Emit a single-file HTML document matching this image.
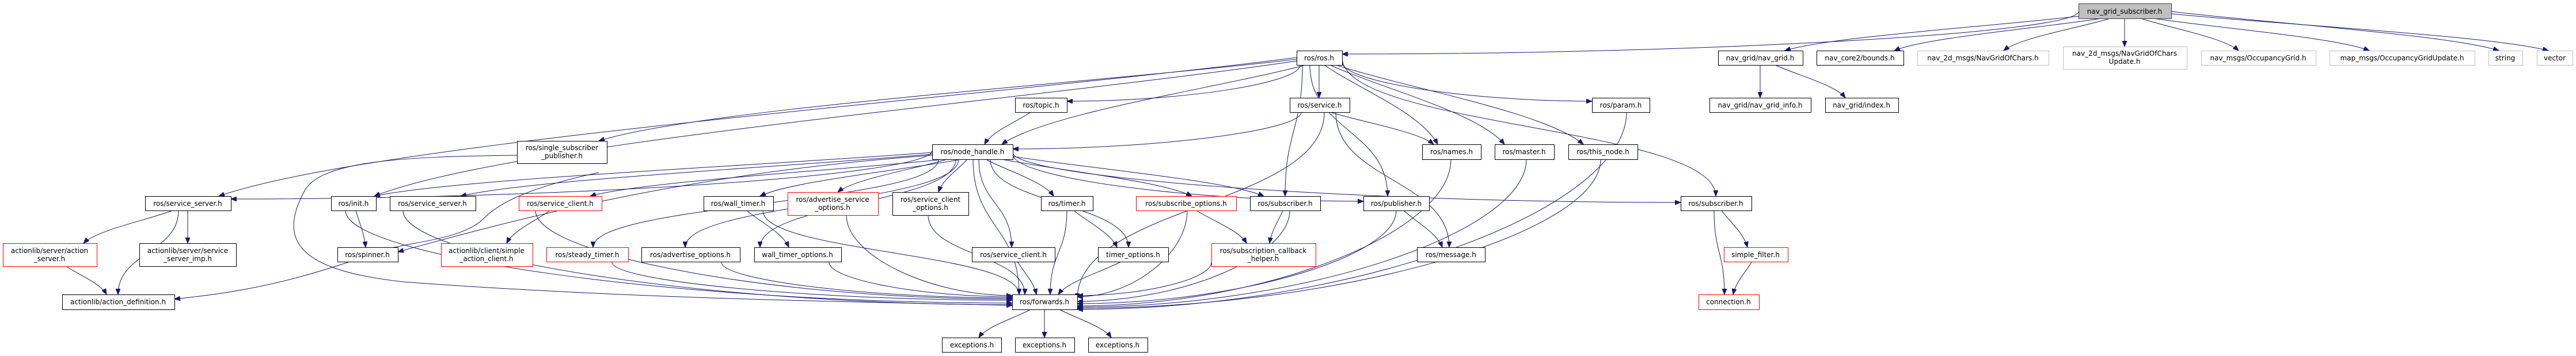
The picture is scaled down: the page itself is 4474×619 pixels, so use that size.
<!DOCTYPE html>
<html><head><meta charset="utf-8"><style>
html,body{margin:0;padding:0;background:#fff;}
svg{display:block;}
text{font-family:"DejaVu Sans","Liberation Sans",sans-serif;font-size:12px;fill:#000;text-anchor:middle;}
.n rect{fill:#fff;stroke:#000;stroke-width:1;}
.r rect{fill:#fff;stroke:#ff0000;stroke-width:1;}
.g rect{fill:#fff;stroke:#bfbfbf;stroke-width:1;}
.e path{fill:none;stroke:#191970;stroke-width:1;}
</style></head><body>
<svg id="s" width="4474" height="619" viewBox="0 0 4474 619" xmlns="http://www.w3.org/2000/svg">
<defs><marker id="a" markerUnits="userSpaceOnUse" markerWidth="11" markerHeight="8" refX="10" refY="4" orient="auto"><path d="M0,0 L10,4 L0,8 z" fill="#191970" stroke="#191970"/></marker></defs>
<g class="e" id="edges"></g>
<g>
<g><rect x="3610.5" y="6.5" width="161" height="26" fill="#bfbfbf" stroke="#404040"/><text x="3690" y="24">nav_grid_subscriber.h</text></g>
<g class="n"><rect x="2252.5" y="88.5" width="79" height="25"/><text x="2291" y="105">ros/ros.h</text></g>
<g class="n"><rect x="2984.5" y="88.5" width="147" height="25"/><text x="3057" y="105">nav_grid/nav_grid.h</text></g>
<g class="n"><rect x="3155.5" y="88.5" width="151" height="25"/><text x="3230" y="105">nav_core2/bounds.h</text></g>
<g class="g"><rect x="3330.5" y="88.5" width="228" height="25"/><text x="3444" y="105">nav_2d_msgs/NavGridOfChars.h</text></g>
<g class="g"><rect x="3583.5" y="81.5" width="215" height="39"/><text x="3690" y="97">nav_2d_msgs/NavGridOfChars</text><text x="3690" y="111">Update.h</text></g>
<g class="g"><rect x="3823.5" y="88.5" width="199" height="25"/><text x="3922" y="105">nav_msgs/OccupancyGrid.h</text></g>
<g class="g"><rect x="4046.5" y="88.5" width="252" height="25"/><text x="4172" y="105">map_msgs/OccupancyGridUpdate.h</text></g>
<g class="g"><rect x="4322.5" y="88.5" width="59" height="25"/><text x="4351" y="105">string</text></g>
<g class="g"><rect x="4406.5" y="88.5" width="62" height="25"/><text x="4437" y="105">vector</text></g>

<g class="n"><rect x="1763.5" y="170.5" width="90" height="25"/><text x="1808" y="187">ros/topic.h</text></g>
<g class="n"><rect x="2240.5" y="170.5" width="104" height="25"/><text x="2292" y="187">ros/service.h</text></g>
<g class="n"><rect x="2765.5" y="170.5" width="100" height="25"/><text x="2815" y="187">ros/param.h</text></g>
<g class="n"><rect x="2969.5" y="170.5" width="176" height="25"/><text x="3057" y="187">nav_grid/nav_grid_info.h</text></g>
<g class="n"><rect x="3170.5" y="170.5" width="127" height="25"/><text x="3233" y="187">nav_grid/index.h</text></g>

<g class="n"><rect x="1619.5" y="251.5" width="140" height="26"/><text x="1689" y="268">ros/node_handle.h</text></g>
<g class="n"><rect x="2470.5" y="251.5" width="102" height="26"/><text x="2521" y="268">ros/names.h</text></g>
<g class="n"><rect x="2596.5" y="251.5" width="103" height="26"/><text x="2647" y="268">ros/master.h</text></g>
<g class="n"><rect x="2724.5" y="251.5" width="120" height="26"/><text x="2784" y="268">ros/this_node.h</text></g>
<g class="n"><rect x="898.5" y="245.5" width="156" height="39"/><text x="976" y="261">ros/single_subscriber</text><text x="976" y="275">_publisher.h</text></g>

<g class="n"><rect x="252.5" y="341.5" width="149" height="25"/><text x="326" y="358">ros/service_server.h</text></g>
<g class="n"><rect x="575.5" y="341.5" width="78" height="25"/><text x="614" y="358">ros/init.h</text></g>
<g class="n"><rect x="677.5" y="341.5" width="149" height="25"/><text x="751" y="358">ros/service_server.h</text></g>
<g class="r"><rect x="901.5" y="341.5" width="144" height="25"/><text x="973" y="358">ros/service_client.h</text></g>
<g class="n"><rect x="1222.5" y="341.5" width="121" height="25"/><text x="1282" y="358">ros/wall_timer.h</text></g>
<g class="r"><rect x="1368.5" y="334.5" width="157" height="40"/><text x="1446" y="351">ros/advertise_service</text><text x="1446" y="365">_options.h</text></g>
<g class="n"><rect x="1550.5" y="334.5" width="132" height="40"/><text x="1616" y="351">ros/service_client</text><text x="1616" y="365">_options.h</text></g>
<g class="n"><rect x="1808.5" y="341.5" width="90" height="25"/><text x="1853" y="358">ros/timer.h</text></g>
<g class="r"><rect x="1973.5" y="341.5" width="174" height="25"/><text x="2060" y="358">ros/subscribe_options.h</text></g>
<g class="n"><rect x="2171.5" y="341.5" width="122" height="25"/><text x="2232" y="358">ros/subscriber.h</text></g>
<g class="n"><rect x="2368.5" y="341.5" width="114" height="25"/><text x="2425" y="358">ros/publisher.h</text></g>
<g class="n"><rect x="2919.5" y="341.5" width="123" height="25"/><text x="2980" y="358">ros/subscriber.h</text></g>

<g class="r"><rect x="5.5" y="423.5" width="163" height="40"/><text x="86" y="440">actionlib/server/action</text><text x="86" y="454">_server.h</text></g>
<g class="n"><rect x="242.5" y="423.5" width="168" height="40"/><text x="326" y="440">actionlib/server/service</text><text x="326" y="454">_server_imp.h</text></g>
<g class="n"><rect x="586.5" y="430.5" width="105" height="25"/><text x="638" y="447">ros/spinner.h</text></g>
<g class="r"><rect x="766.5" y="423.5" width="159" height="40"/><text x="845" y="440">actionlib/client/simple</text><text x="845" y="454">_action_client.h</text></g>
<g class="r"><rect x="949.5" y="430.5" width="142" height="25"/><text x="1020" y="447">ros/steady_timer.h</text></g>
<g class="n"><rect x="1114.5" y="430.5" width="171" height="25"/><text x="1199" y="447">ros/advertise_options.h</text></g>
<g class="n"><rect x="1310.5" y="430.5" width="151" height="25"/><text x="1385" y="447">wall_timer_options.h</text></g>
<g class="n"><rect x="1688.5" y="430.5" width="144" height="25"/><text x="1760" y="447">ros/service_client.h</text></g>
<g class="n"><rect x="1907.5" y="430.5" width="122" height="25"/><text x="1968" y="447">timer_options.h</text></g>
<g class="r"><rect x="2104.5" y="423.5" width="181" height="40"/><text x="2194" y="440">ros/subscription_callback</text><text x="2194" y="454">_helper.h</text></g>
<g class="n"><rect x="2461.5" y="430.5" width="118" height="25"/><text x="2520" y="447">ros/message.h</text></g>
<g class="r"><rect x="2994.5" y="430.5" width="111" height="25"/><text x="3049" y="447">simple_filter.h</text></g>

<g class="n"><rect x="108.5" y="512.5" width="195" height="26"/><text x="205" y="529">actionlib/action_definition.h</text></g>
<g class="n"><rect x="1758.5" y="512.5" width="113" height="26"/><text x="1814" y="529">ros/forwards.h</text></g>
<g class="r"><rect x="2950.5" y="512.5" width="105" height="26"/><text x="3002" y="529">connection.h</text></g>

<g class="n"><rect x="1636.5" y="587.5" width="103" height="25"/><text x="1688" y="604">exceptions.h</text></g>
<g class="n"><rect x="1763.5" y="587.5" width="103" height="25"/><text x="1814" y="604">exceptions.h</text></g>
<g class="n"><rect x="1890.5" y="587.5" width="103" height="25"/><text x="1941" y="604">exceptions.h</text></g>
</g>
</svg>
<script>
var E=[
[3610,20,2331,94,'h'],[3612,28,3100,88],[3650,32,3290,88],[3665,32,3480,88],[3690,32,3690,81],[3718,32,3888,88],[3740,32,4115,88],[3771,20,4340,88],[3771,24,4426,88],
[3057,113,3057,170],[3083,113,3205,170],
[2252,100,380,341],[2252,103,1040,245],[2252,106,650,341],[2268,113,1740,251],[2258,113,1853,176,'h'],[2291,113,2291,170],
[2300,113,2497,251],[2310,113,2613,251],[2320,113,2750,251],[2331,108,2765,176,'h'],[2275,113,2410,341,'v'],[2331,100,2980,341,'v'],[2262,113,2232,341,'v'],
[2260,195,1759,259,'h'],[2310,195,2490,251],[2320,195,2517,430,'v'],[2300,195,1871,520,'v'],
[1790,195,1710,251],
[1619,262,401,346,'h'],[1619,265,650,341],[1619,268,800,341],[1640,277,1025,341],[1630,277,1030,430,'v'],[1665,277,1190,430,'v'],[1660,277,1320,430,'v'],[1670,277,1320,341],[1645,277,1455,334],[1680,277,1630,334],[1700,277,1757,430,'v'],[1690,277,1770,512,'v'],[1712,277,1830,341],[1720,277,1960,430,'v'],[1740,277,2070,341],[1759,272,2195,341],[1759,268,2368,350,'h'],[1759,265,2919,352,'h'],
[300,366,145,423],[310,366,205,512,'v'],[326,366,326,423],[115,463,185,512],
[618,366,635,430],[600,366,1758,527,'h'],[700,366,1758,530,'h'],[955,366,880,423],[930,366,1758,520,'h'],
[1063,456,1758,522,'h'],[1253,456,1758,518,'h'],[1440,456,1758,516,'h'],[1470,374,1758,514,'h'],[1297,366,1370,430],[1325,366,1770,512,'v'],[1612,374,1780,512,'v'],
[1768,456,1800,512],[1853,366,1824,512,'v'],[1865,366,1940,430],[1945,456,1838,512],[2062,366,1871,516,'h'],[2078,366,2165,423],[2228,366,2205,423],[2240,366,1871,524,'h'],[2104,456,1871,514,'h'],
[2425,366,1871,528,'h'],[2438,366,2505,430],[2520,277,1871,532,'h'],[2651,277,1871,534,'h'],[2780,277,1871,536,'h'],[2825,195,1871,538,'h'],
[2977,366,2995,512,'v'],[2990,366,3035,430],[3042,456,3010,512],
[1790,538,1700,587],[1814,538,1814,587],[1840,538,1930,587]
];
var g=document.getElementById('edges'),h='';
E.forEach(function(e){var x1=e[0],y1=e[1],x2=e[2],y2=e[3],dx=x2-x1,dy=y2-y1,d;
 if(e[4]=='h'){var mx=(x1+x2)/2;d='M'+x1+','+y1+' C'+x1+','+(y1+dy*0.5)+' '+mx+','+y2+' '+x2+','+y2;}
 else if(e[4]=='v'){var my=(y1+y2)/2;d='M'+x1+','+y1+' C'+x1+','+my+' '+x2+','+my+' '+x2+','+y2;}
 else{d='M'+x1+','+y1+' C'+(x1+dx*0.3)+','+(y1+dy*0.3)+' '+(x2-dx*0.15)+','+(y2-dy*0.4)+' '+x2+','+y2;}
 h+='<path d="'+d+'" marker-end="url(#a)"/>';});
h+='<path d="M898,270 C700,272 560,280 530,330 C480,420 520,470 700,490 C1100,520 1500,525 1758,531" marker-end="url(#a)"/>';
h+='<path d="M1040,300 C900,330 860,360 840,380 C800,420 700,420 650,440 C500,495 400,510 303,520" marker-end="url(#a)"/>';
h+='<path d="M1619,270 C1200,300 900,380 691,438" marker-end="url(#a)"/>';
g.innerHTML=h;
</script>
</body></html>
